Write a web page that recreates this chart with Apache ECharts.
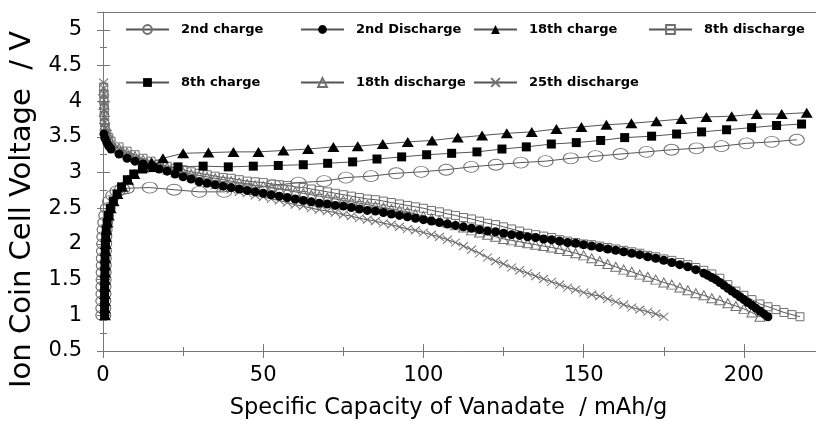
<!DOCTYPE html>
<html><head><meta charset="utf-8">
<script src="https://cdn.jsdelivr.net/npm/echarts@6/dist/echarts.min.js"></script>
<style>html,body{margin:0;padding:0;background:#fff}#c{width:816px;height:423px}</style>
</head><body><div id="c"></div>
<script>
// ---- Data: [specific capacity (mAh/g), voltage (V)] ----
const charge2 = [[0.1,1.0],[0.1,1.1],[0.1,1.2],[0.15,1.3],[0.15,1.4],[0.2,1.5],[0.2,1.6],[0.25,1.7],[0.25,1.8],[0.3,1.9],[0.35,2.0],[0.4,2.1],[0.5,2.2],[0.7,2.3],[1.0,2.4],[1.5,2.5],[2.2,2.6],[3.2,2.68],[4.5,2.74],[6,2.77],[7.4,2.78],[14.6,2.79],[22.2,2.76],[30,2.73],[37.8,2.73],[45.6,2.77],[53.3,2.82],[61,2.86],[69,2.88],[75.8,2.93],[83.6,2.95],[91.5,2.99],[99.3,3.01],[107.1,3.04],[114.9,3.08],[122.6,3.11],[130.4,3.14],[138.1,3.16],[146,3.20],[153.7,3.23],[161.5,3.26],[169.6,3.29],[177.4,3.32],[185.2,3.34],[193,3.37],[200.8,3.41],[208.7,3.43],[216.5,3.46]];

const discharge2 = [[0.3,3.54],[0.6,3.48],[1.2,3.42],[1.8,3.37],[2.5,3.33],[5,3.26],[7.5,3.20],[10,3.16],[12.5,3.12],[15,3.08],[17.5,3.05],[20,3.02],[22.5,2.98],[25,2.94],[27.5,2.91],[30,2.87],[32.5,2.85],[35,2.83],[37.5,2.81],[40,2.79],[42.5,2.77],[45,2.75],[47.5,2.73],[50,2.71],[52.5,2.69],[55,2.67],[57.5,2.65],[60,2.63],[62.5,2.61],[65,2.59],[67.5,2.57],[70,2.56],[72.5,2.54],[75,2.53],[77.5,2.51],[80,2.49],[82.5,2.47],[85,2.46],[87.5,2.44],[90,2.42],[92.5,2.40],[95,2.38],[97.5,2.36],[100,2.34],[102.5,2.32],[105,2.30],[107.5,2.28],[110,2.26],[112.5,2.24],[115,2.22],[117.5,2.20],[120,2.18],[122.5,2.17],[125,2.15],[127.5,2.13],[130,2.12],[132.5,2.10],[135,2.09],[137.5,2.07],[140,2.06],[142.5,2.04],[145,2.02],[147.5,2.01],[150,1.99],[152.5,1.97],[155,1.95],[157.5,1.93],[160,1.91],[162.5,1.89],[165,1.87],[167.5,1.85],[170,1.82],[172.5,1.80],[175,1.77],[177.5,1.74],[180,1.71],[182.5,1.68],[185,1.64],[187.5,1.59],[188.75,1.56],[190,1.53],[191.25,1.50],[192.5,1.46],[193.75,1.42],[195,1.38],[196.25,1.34],[197.5,1.30],[198.75,1.26],[200,1.22],[201.25,1.18],[202.5,1.14],[203.75,1.10],[205,1.06],[206.25,1.02],[207.5,0.98]];

const charge18 = [[0.6,1.0],[0.6,1.1],[0.6,1.2],[0.6,1.3],[0.6,1.4],[0.65,1.5],[0.7,1.6],[0.7,1.7],[0.75,1.8],[0.8,1.9],[0.85,2.0],[0.95,2.1],[1.1,2.2],[1.4,2.3],[1.8,2.4],[2.4,2.5],[3.3,2.6],[4.5,2.7],[6,2.8],[7.8,2.9],[9.8,2.98],[12.5,3.07],[15.2,3.14],[18.7,3.20],[25,3.27],[32.9,3.28],[40.7,3.29],[48.5,3.29],[56.3,3.31],[64,3.33],[71.9,3.36],[79.5,3.37],[87.3,3.40],[95.1,3.43],[102.7,3.45],[110.7,3.49],[118.3,3.52],[126,3.55],[133.8,3.57],[141.5,3.61],[149.3,3.64],[157.1,3.67],[164.9,3.69],[172.7,3.72],[180.5,3.75],[188.3,3.78],[196.2,3.79],[204,3.82],[211.8,3.82],[219.6,3.84]];

const discharge8 = [[0.2,4.2],[0.3,4.1],[0.3,4.0],[0.4,3.9],[0.4,3.8],[0.5,3.7],[0.7,3.62],[1.2,3.55],[1.8,3.49],[2.5,3.44],[5,3.36],[7.5,3.30],[10,3.25],[12.5,3.20],[15,3.16],[17.5,3.12],[20,3.09],[22.5,3.06],[25,3.04],[27.5,3.01],[30,2.99],[32.5,2.97],[35,2.95],[37.5,2.93],[40,2.92],[42.5,2.90],[45,2.88],[47.5,2.87],[50,2.86],[52.5,2.84],[55,2.83],[57.5,2.82],[60,2.80],[62.5,2.79],[65,2.77],[67.5,2.75],[70,2.73],[72.5,2.71],[75,2.69],[77.5,2.67],[80,2.65],[82.5,2.63],[85,2.62],[87.5,2.60],[90,2.58],[92.5,2.56],[95,2.54],[97.5,2.52],[100,2.50],[102.5,2.47],[105,2.45],[107.5,2.42],[110,2.40],[112.5,2.37],[115,2.35],[117.5,2.32],[120,2.29],[122.5,2.27],[125,2.24],[127.5,2.21],[130,2.18],[132.5,2.15],[135,2.13],[137.5,2.11],[140,2.09],[142.5,2.06],[145,2.04],[147.5,2.02],[150,2.00],[152.5,1.99],[155,1.97],[157.5,1.95],[160,1.93],[162.5,1.91],[165,1.89],[167.5,1.87],[170,1.84],[172.5,1.82],[175,1.79],[177.5,1.77],[180,1.74],[182.5,1.71],[185,1.67],[187.5,1.63],[190,1.58],[192.5,1.52],[195,1.43],[197.5,1.34],[200,1.28],[202.5,1.22],[205,1.16],[207.5,1.12],[210,1.08],[212.5,1.04],[215,1.01],[217.5,0.98]];

const charge8 = [[0.5,1.0],[0.5,1.1],[0.5,1.2],[0.5,1.3],[0.5,1.4],[0.55,1.5],[0.6,1.6],[0.6,1.7],[0.65,1.8],[0.7,1.9],[0.75,2.0],[0.85,2.1],[1.0,2.2],[1.3,2.3],[1.7,2.4],[2.3,2.5],[3.2,2.6],[4.4,2.7],[5.8,2.8],[7.6,2.9],[9.6,2.98],[12.3,3.05],[15.6,3.07],[23.4,3.08],[31.25,3.09],[39.1,3.08],[46.9,3.09],[54.7,3.10],[62.5,3.11],[70.1,3.13],[77.9,3.15],[85.5,3.19],[93.2,3.22],[101,3.25],[108.8,3.27],[116.7,3.29],[124.5,3.33],[132.1,3.36],[139.9,3.40],[147.7,3.42],[155.3,3.45],[162.8,3.49],[171.2,3.51],[179,3.54],[186.8,3.57],[194.6,3.60],[202.4,3.63],[210.2,3.66],[218,3.68]];

const discharge18 = [[0.2,4.15],[0.3,4.05],[0.3,3.95],[0.4,3.85],[0.5,3.75],[0.6,3.66],[1,3.58],[1.6,3.5],[2.5,3.42],[5,3.34],[7.5,3.28],[10,3.23],[12.5,3.18],[15,3.14],[17.5,3.10],[20,3.07],[22.5,3.04],[25,3.01],[27.5,2.98],[30,2.96],[32.5,2.94],[35,2.92],[37.5,2.90],[40,2.88],[42.5,2.86],[45,2.84],[47.5,2.82],[50,2.81],[52.5,2.79],[55,2.77],[57.5,2.75],[60,2.73],[62.5,2.71],[65,2.69],[67.5,2.67],[70,2.65],[72.5,2.63],[75,2.61],[77.5,2.59],[80,2.57],[82.5,2.55],[85,2.53],[87.5,2.51],[90,2.49],[92.5,2.47],[95,2.45],[97.5,2.42],[100,2.39],[102.5,2.36],[105,2.33],[107.5,2.30],[110,2.26],[112.5,2.23],[115,2.19],[117.5,2.16],[120,2.13],[122.5,2.10],[125,2.07],[127.5,2.05],[130,2.03],[132.5,2.01],[135,1.99],[137.5,1.97],[140,1.95],[142.5,1.93],[145,1.90],[147.5,1.87],[150,1.84],[152.5,1.80],[155,1.76],[157.5,1.72],[160,1.68],[162.5,1.64],[165,1.61],[167.5,1.57],[170,1.54],[172.5,1.50],[175,1.46],[177.5,1.43],[180,1.39],[182.5,1.35],[185,1.31],[187.5,1.28],[190,1.24],[192.5,1.21],[195,1.17],[197.5,1.13],[200,1.09],[202.5,1.04],[205,0.98]];

const discharge25 = [[0.2,4.26],[0.2,4.18],[0.3,4.1],[0.3,4.02],[0.3,3.94],[0.4,3.86],[0.4,3.78],[0.5,3.7],[0.7,3.62],[1.2,3.54],[1.8,3.46],[2.5,3.40],[5,3.32],[7.5,3.26],[10,3.20],[12.5,3.15],[15,3.11],[17.5,3.07],[20,3.03],[22.5,2.99],[25,2.96],[27.5,2.92],[30,2.89],[32.5,2.85],[35,2.82],[37.5,2.79],[40,2.76],[42.5,2.73],[45,2.71],[47.5,2.68],[50,2.66],[52.5,2.63],[55,2.61],[57.5,2.58],[60,2.55],[62.5,2.53],[65,2.50],[67.5,2.48],[70,2.46],[72.5,2.44],[75,2.41],[77.5,2.39],[80,2.36],[82.5,2.34],[85,2.32],[87.5,2.29],[90,2.27],[92.5,2.24],[95,2.21],[97.5,2.19],[100,2.16],[102.5,2.13],[105,2.10],[107.5,2.06],[110,2.02],[112.5,1.97],[115,1.92],[117.5,1.87],[120,1.81],[122.5,1.76],[125,1.72],[127.5,1.67],[130,1.63],[132.5,1.59],[135,1.55],[137.5,1.51],[140,1.47],[142.5,1.43],[145,1.39],[147.5,1.36],[150,1.32],[152.5,1.29],[155,1.27],[157.5,1.23],[160,1.19],[162.5,1.15],[165,1.11],[167.5,1.08],[170,1.05],[172.5,1.02],[175,0.98]];

const seriesNames = ['2nd charge','2nd Discharge','18th charge','8th discharge','8th charge','18th discharge','25th discharge'];
const xTitle = 'Specific Capacity of Vanadate  / mAh/g';
const yTitle = 'Ion Coin Cell Voltage  / V';

// ---- Chart ----
const chart = echarts.init(document.getElementById('c'), null, {renderer:'canvas'});
const AX = '#777';
const LINE = '#555';
const FONT = 'DejaVu Sans';
const xRange = {type:'value', min:0, max:225, interval:50, splitLine:{show:false}};
const yRange = {type:'value', min:0.5, max:5.25, interval:0.5, splitLine:{show:false}};
const open = {color:'rgba(0,0,0,0)', borderColor:'#707070', borderWidth:1};
const filled = {color:'#000', borderWidth:0};
const xPath = 'path://M0,0L10,10M10,0L0,10';

function mk(name, data, symbol, size, itemStyle, z) {
  return {name, type:'line', data, symbol, symbolSize:size, itemStyle,
    lineStyle:{width:1, color:LINE}, showSymbol:true, clip:false, z:z||2,
    emphasis:{disabled:true}, animation:false};
}

const legendPos = [[125,23],[300,23],[473,23],[648,23],[125,76],[300,76],[473,76]];
const legends = seriesNames.map((n,i) => ({
  data:[n], left:legendPos[i][0], top:legendPos[i][1], padding:0, itemGap:0,
  itemWidth:43, itemHeight:11, selectedMode:false,
  textStyle:{fontFamily:FONT, fontWeight:'bold', fontSize:13, color:'#000', padding:[0,0,0,7]}
}));

chart.setOption({
  backgroundColor:'#fff',
  animation:false,
  legend: legends,
  grid:{left:103, width:721, top:12, height:339, containLabel:false, outerBoundsMode:'none'},
  xAxis:[
    Object.assign({}, xRange, {position:'bottom',
      axisLine:{lineStyle:{color:AX, width:1}},
      axisTick:{length:7, lineStyle:{color:AX}},
      minorTick:{show:true, splitNumber:2, length:5, lineStyle:{color:AX}},
      axisLabel:{margin:14, fontFamily:FONT, fontSize:21, color:'#000',
        formatter: v => (Math.abs(v % 50) < 1e-9 ? String(v) : '')},
      name:xTitle, nameLocation:'middle', nameGap:46,
      nameTextStyle:{fontFamily:FONT, fontSize:22.5, color:'#000', padding:[0,30,0,0]}}),
    Object.assign({}, xRange, {position:'bottom',
      axisLine:{show:false},
      axisTick:{inside:true, length:7, lineStyle:{color:AX}},
      minorTick:{show:true, splitNumber:2, length:4, lineStyle:{color:AX}},
      axisLabel:{show:false}}),
    Object.assign({}, xRange, {position:'top',
      axisLine:{lineStyle:{color:AX, width:1}},
      axisTick:{show:false}, axisLabel:{show:false}})
  ],
  yAxis:[
    Object.assign({}, yRange, {position:'left',
      axisLine:{lineStyle:{color:AX, width:1}},
      axisTick:{length:6, lineStyle:{color:AX}},
      minorTick:{show:true, splitNumber:2, length:3, lineStyle:{color:AX}},
      axisLabel:{margin:21, fontFamily:FONT, fontSize:21, color:'#000',
        formatter: v => (Math.abs(v*2 - Math.round(v*2)) < 1e-9 ? String(v) : '')},
      name:yTitle, nameLocation:'middle', nameGap:66, nameRotate:90,
      nameTextStyle:{fontFamily:FONT, fontSize:29, color:'#000', padding:[0,56,0,0]}}),
    Object.assign({}, yRange, {position:'left',
      axisLine:{show:false},
      axisTick:{inside:true, length:7, lineStyle:{color:AX}},
      minorTick:{show:true, splitNumber:2, length:4, lineStyle:{color:AX}},
      axisLabel:{show:false}})
  ],
  series:[
    mk('2nd charge', charge2, 'circle', [15,11], open),
    mk('8th discharge', discharge8, 'rect', 8, open),
    mk('18th discharge', discharge18, 'triangle', [10,9], open),
    mk('25th discharge', discharge25, xPath, [9,8], open),
    mk('2nd Discharge', discharge2, 'circle', 9, filled, 3),
    mk('8th charge', charge8, 'rect', 9, filled, 3),
    mk('18th charge', charge18, 'triangle', [12,10], filled, 3)
  ]
});
</script>
</body></html>
